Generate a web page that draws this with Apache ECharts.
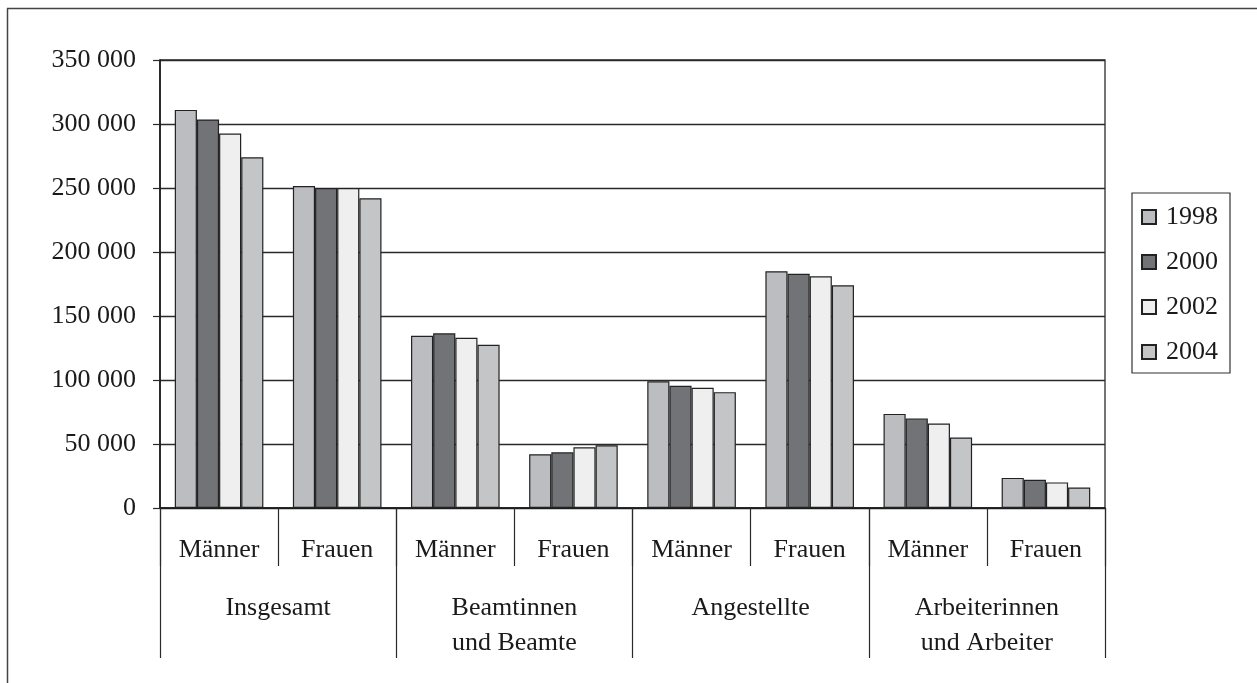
<!DOCTYPE html>
<html>
<head>
<meta charset="utf-8">
<script src="https://cdn.jsdelivr.net/npm/echarts@6/dist/echarts.min.js"></script>
<style>
html,body{margin:0;padding:0;background:#fff;}
#chart{width:1257px;height:683px;}
</style>
</head>
<body>
<div id="chart"></div>
<script>
var categories = ['Männer','Frauen','Männer','Frauen','Männer','Frauen','Männer','Frauen'];
var groups = ['Insgesamt','Beamtinnen\nund Beamte','Angestellte','Arbeiterinnen\nund Arbeiter'];
var years = ['1998','2000','2002','2004'];
var s1998 = [311000, 251500, 134500, 42000, 99000, 185000, 73500, 23500];
var s2000 = [303500, 250000, 136500, 43500, 95500, 183000, 70000, 22000];
var s2002 = [292500, 250000, 133000, 47500, 94000, 181000, 66000, 20000];
var s2004 = [274000, 242000, 127500, 49000, 90500, 174000, 55000, 16000];
var colors = ['#bcbdc0', '#727377', '#efefef', '#c4c5c7'];

var FONT = '"Liberation Serif", "Times New Roman", serif';
var seriesData = [s1998, s2000, s2002, s2004];

var chart = echarts.init(document.getElementById('chart'), null, {renderer: 'canvas'});
var option = {
  animation: false,
  backgroundColor: '#fff',
  textStyle: {fontFamily: FONT, color: '#1a1a1a'},
  grid: {left: 160, right: 152, top: 60, bottom: 175, show: true, borderColor: '#2a2a2a', borderWidth: 1.3, containLabel: false},
  legend: {
    orient: 'vertical',
    left: 1132, top: 193,
    itemWidth: 14, itemHeight: 14,
    itemGap: 19,
    padding: [11, 12, 8, 9],
    borderColor: '#333', borderWidth: 1.2, backgroundColor: '#fff',
    icon: 'rect',
    textStyle: {fontFamily: FONT, fontSize: 26, color: '#1a1a1a', lineHeight: 26, padding: [0, 0, 0, 5]},
    data: years
  },
  xAxis: [
    {
      type: 'category',
      data: categories,
      position: 'bottom',
      axisLine: {show: true, lineStyle: {color: '#1a1a1a', width: 1.6}},
      axisTick: {show: true, interval: 0, length: 58, lineStyle: {color: '#2a2a2a', width: 1.2}},
      axisLabel: {interval: 0, margin: 27, fontFamily: FONT, fontSize: 26, color: '#1a1a1a', lineHeight: 30}
    },
    {
      type: 'category',
      data: groups,
      position: 'bottom',
      gridIndex: 0,
      axisLine: {show: false},
      axisTick: {show: true, interval: 0, length: 150, lineStyle: {color: '#2a2a2a', width: 1.2}},
      axisLabel: {interval: 0, margin: 83, fontFamily: FONT, fontSize: 26, color: '#1a1a1a', lineHeight: 35}
    }
  ],
  yAxis: {
    type: 'value',
    min: 0, max: 350000, interval: 50000,
    axisLine: {show: true, lineStyle: {color: '#1a1a1a', width: 1.6}},
    axisTick: {show: true, length: 7, lineStyle: {color: '#2a2a2a', width: 1.2}},
    splitLine: {show: true, lineStyle: {color: '#2a2a2a', width: 1.3}},
    axisLabel: {
      margin: 24, fontFamily: FONT, fontSize: 26, color: '#1a1a1a',
      padding: [6, 0, 0, 0],
      formatter: function (v) {
        var s = String(v);
        return s.replace(/\B(?=(\d{3})+(?!\d))/g, ' ');
      }
    }
  },
  series: years.map(function (y, i) {
    return {
      name: y,
      type: 'bar',
      xAxisIndex: 0,
      data: seriesData[i],
      barGap: 0,
      barCategoryGap: '25%',
      itemStyle: {color: colors[i], borderColor: '#222', borderWidth: 1.2}
    };
  }),
  graphic: [
    {type: 'line', shape: {x1: 7.5, y1: 8.5, x2: 7.5, y2: 683}, style: {stroke: '#444', lineWidth: 1.5}, silent: true},
    {type: 'line', shape: {x1: 7, y1: 8.5, x2: 1257, y2: 8.5}, style: {stroke: '#444', lineWidth: 1.5}, silent: true}
  ]
};
chart.setOption(option);
</script>
</body>
</html>
